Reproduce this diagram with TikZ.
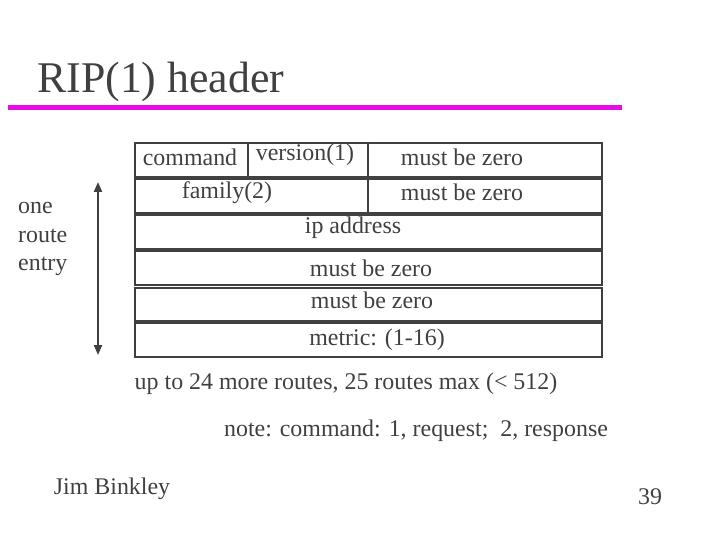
\documentclass[tikz,border=0pt]{standalone}
\usepackage{fontspec}
\setmainfont{Liberation Serif}
\usepackage{tikz}
\usetikzlibrary{arrows.meta}

\definecolor{inkgray}{RGB}{64,64,64}
\definecolor{barmagenta}{RGB}{230,10,230}

\tikzset{
  field/.style={draw=inkgray, line width=2pt, anchor=north west, inner sep=0pt},
  lbl/.style={text=inkgray, inner sep=0pt, font=\fontsize{24}{29}\selectfont},
  divider/.style={draw=inkgray, line width=2pt},
}

\begin{document}
\begin{tikzpicture}[x=1bp, y=-1bp]
\useasboundingbox (0,0) rectangle (720,540);

% title
\node[text=inkgray, inner sep=0pt, anchor=base west, font=\fontsize{44}{50}\selectfont] (title) at (37,93) {RIP(1) header};
\coordinate (barL) at (8,108);
\coordinate (barR) at (622,108);
\draw[barmagenta, line width=5bp] (barL) -- (barR);

% the rows of the entry
\node[field, minimum width=467bp, minimum height=34bp] (row1) at (134,142) {};
\node[field, minimum width=467bp, minimum height=34bp] (row2) at (134,178) {};
\node[field, minimum width=467bp, minimum height=34bp] (row3) at (134,214) {};
\node[field, minimum width=467bp, minimum height=34bp] (row4) at (134,250) {};
\node[field, minimum width=467bp, minimum height=33bp] (row5) at (134,287) {};
\node[field, minimum width=467bp, minimum height=34bp] (row6) at (134,322) {};

\coordinate (cmdtop) at (248,144);
\coordinate (cmdbot) at (248,176);
\draw[divider] (cmdtop) -- (cmdbot);
\coordinate (midtop) at (368,142);
\coordinate (midbot) at (368,212);
\draw[divider] (midtop) -- (midbot);

  \node[lbl] (command) at (190,157) {command};
  \node[lbl] (version) at (305,155) {version(1)};
  \node[lbl] (zeroA) at (462,157) {must be zero};
  \node[lbl] (family) at (227,193) {family(2)};
  \node[lbl] (zeroB) at (462,192) {must be zero};
  \node[lbl] (ipaddr) at (353,228) {ip address};
  \node[lbl] (zeroC) at (371,268) {must be zero};
  \node[lbl] (zeroD) at (372,300) {must be zero};
  \node[lbl] (metric) at (377,340) {metric: (1-16)};

% one route entry
\node[lbl, align=left, anchor=west] (entry) at (18,239) {one\\route\\entry};
\coordinate (arrtop) at (98,182);
\coordinate (arrbot) at (98,355);
\draw[inkgray, line width=2pt, {Triangle[width=8bp,length=10bp]}-{Triangle[width=8bp,length=10bp]}] (arrtop) -- (arrbot);

 \node[lbl] (more) at (346,384) {up to 24 more routes, 25 routes max (< 512)};
 \node[lbl] (note) at (416,431) {note: command: 1, request;\ \ 2, response};

 \node[lbl] (author) at (112,489) {Jim Binkley};
 \node[lbl] (page) at (650,497) {39};

\end{tikzpicture}
\end{document}
